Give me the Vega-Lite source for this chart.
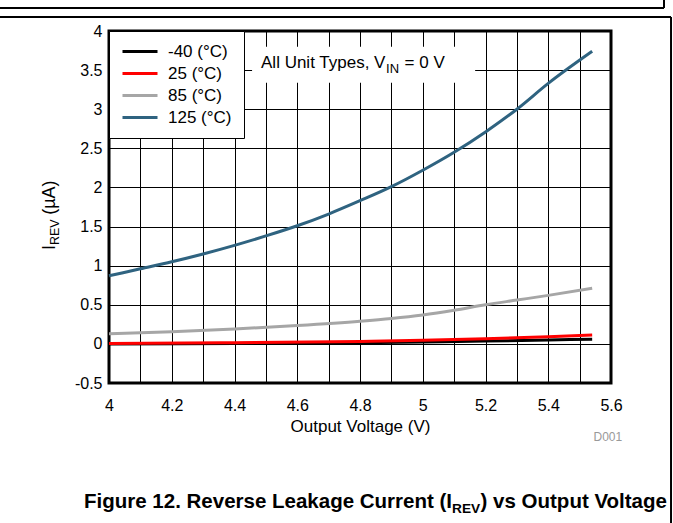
{
  "$schema": "https://vega.github.io/schema/vega-lite/v6.json",
  "width": 502,
  "height": 352,
  "autosize": {"type": "none"},
  "padding": {"left": 109, "top": 31, "right": 62, "bottom": 140},
  "background": "white",
  "resolve": {"axis": {"x": "independent", "y": "independent"}},
  "config": {
    "font": "Liberation Sans",
    "view": {"stroke": "black", "strokeWidth": 3},
    "axis": {
      "domain": false, "ticks": false, "tickSize": 0, "grid": true, "labelFlush": false,
      "labelOverlap": false,
      "gridColor": "black", "gridOpacity": 1, "gridWidth": 1,
      "labelFont": "Liberation Sans", "labelFontSize": 16, "labelColor": "black",
      "titleFont": "Liberation Sans", "titleFontSize": 17, "titleFontWeight": "normal", "titleColor": "black"
    },
    "legend": {
      "orient": "top-left", "offset": 0, "fillColor": "white", "strokeColor": "black",
      "padding": 12, "labelFontSize": 17, "labelColor": "black", "labelOffset": 9,
      "symbolType": "stroke", "symbolSize": 1225, "symbolStrokeWidth": 3,
      "clipHeight": 17, "rowPadding": 4
    }
  },
  "datasets": {
    "curves": [
      {"series": "-40 (°C)", "v": 4.0, "i": 0.0},
      {"series": "-40 (°C)", "v": 4.4, "i": 0.006},
      {"series": "-40 (°C)", "v": 4.8, "i": 0.016},
      {"series": "-40 (°C)", "v": 5.0, "i": 0.025},
      {"series": "-40 (°C)", "v": 5.2, "i": 0.036},
      {"series": "-40 (°C)", "v": 5.4, "i": 0.05},
      {"series": "-40 (°C)", "v": 5.54, "i": 0.06},
      {"series": "25 (°C)", "v": 4.0, "i": 0.006},
      {"series": "25 (°C)", "v": 4.4, "i": 0.016},
      {"series": "25 (°C)", "v": 4.8, "i": 0.032},
      {"series": "25 (°C)", "v": 5.0, "i": 0.046},
      {"series": "25 (°C)", "v": 5.2, "i": 0.066},
      {"series": "25 (°C)", "v": 5.4, "i": 0.092},
      {"series": "25 (°C)", "v": 5.54, "i": 0.115},
      {"series": "85 (°C)", "v": 4.0, "i": 0.13},
      {"series": "85 (°C)", "v": 4.2, "i": 0.155},
      {"series": "85 (°C)", "v": 4.4, "i": 0.19},
      {"series": "85 (°C)", "v": 4.6, "i": 0.235},
      {"series": "85 (°C)", "v": 4.8, "i": 0.29},
      {"series": "85 (°C)", "v": 4.9, "i": 0.325},
      {"series": "85 (°C)", "v": 5.0, "i": 0.37},
      {"series": "85 (°C)", "v": 5.1, "i": 0.43},
      {"series": "85 (°C)", "v": 5.2, "i": 0.5},
      {"series": "85 (°C)", "v": 5.3, "i": 0.56},
      {"series": "85 (°C)", "v": 5.4, "i": 0.62},
      {"series": "85 (°C)", "v": 5.54, "i": 0.71},
      {"series": "125 (°C)", "v": 4.0, "i": 0.87},
      {"series": "125 (°C)", "v": 4.1, "i": 0.96},
      {"series": "125 (°C)", "v": 4.2, "i": 1.05},
      {"series": "125 (°C)", "v": 4.3, "i": 1.15},
      {"series": "125 (°C)", "v": 4.4, "i": 1.26},
      {"series": "125 (°C)", "v": 4.5, "i": 1.38},
      {"series": "125 (°C)", "v": 4.6, "i": 1.51},
      {"series": "125 (°C)", "v": 4.7, "i": 1.66},
      {"series": "125 (°C)", "v": 4.8, "i": 1.83},
      {"series": "125 (°C)", "v": 4.9, "i": 2.01},
      {"series": "125 (°C)", "v": 5.0, "i": 2.22},
      {"series": "125 (°C)", "v": 5.1, "i": 2.45},
      {"series": "125 (°C)", "v": 5.2, "i": 2.71},
      {"series": "125 (°C)", "v": 5.3, "i": 3.0},
      {"series": "125 (°C)", "v": 5.4, "i": 3.33},
      {"series": "125 (°C)", "v": 5.54, "i": 3.74}
    ]
  },
  "layer": [
    {
      "data": {"name": "curves"},
      "mark": {"type": "line", "strokeWidth": 3, "interpolate": "monotone"},
      "encoding": {
        "x": {
          "field": "v", "type": "quantitative",
          "scale": {"domain": [4, 5.6], "nice": false, "zero": false},
          "axis": {
            "values": [4, 4.1, 4.2, 4.3, 4.4, 4.5, 4.6, 4.7, 4.8, 4.9, 5, 5.1, 5.2, 5.3, 5.4, 5.5, 5.6],
            "labelExpr": "round(datum.value*10) % 2 == 0 ? '' + datum.value : ''",
            "labelPadding": 14, "title": "Output Voltage (V)", "titlePadding": 5
          }
        },
        "y": {
          "field": "i", "type": "quantitative",
          "scale": {"domain": [-0.5, 4], "nice": false, "zero": false},
          "axis": {
            "values": [-0.5, 0, 0.5, 1, 1.5, 2, 2.5, 3, 3.5, 4],
            "labelExpr": "'' + datum.value",
            "labelPadding": 7, "title": null
          }
        },
        "color": {
          "field": "series", "type": "nominal",
          "scale": {
            "domain": ["-40 (°C)", "25 (°C)", "85 (°C)", "125 (°C)"],
            "range": ["#000000", "#ff0000", "#a6a6a6", "#2f6380"]
          },
          "legend": {"title": null}
        }
      }
    },
    {
      "data": {"values": [{}]},
      "mark": {"type": "rect", "fill": "white"},
      "encoding": {
        "x": {"datum": 4.456, "type": "quantitative", "axis": null}, "x2": {"datum": 5.167},
        "y": {"datum": 3.80, "type": "quantitative", "axis": null}, "y2": {"datum": 3.34}
      }
    },
    {
      "data": {"values": [{}]},
      "mark": {"type": "text", "text": "All Unit Types, V", "align": "left", "baseline": "alphabetic", "fontSize": 17, "color": "black"},
      "encoding": {"x": {"datum": 4.4845, "type": "quantitative", "axis": null}, "y": {"datum": 3.527, "type": "quantitative", "axis": null}}
    },
    {
      "data": {"values": [{}]},
      "mark": {"type": "text", "text": "IN", "align": "left", "baseline": "alphabetic", "fontSize": 13, "color": "black"},
      "encoding": {"x": {"datum": 4.883, "type": "quantitative", "axis": null}, "y": {"datum": 3.463, "type": "quantitative", "axis": null}}
    },
    {
      "data": {"values": [{}]},
      "mark": {"type": "text", "text": "= 0 V", "align": "left", "baseline": "alphabetic", "fontSize": 17, "color": "black"},
      "encoding": {"x": {"datum": 4.942, "type": "quantitative", "axis": null}, "y": {"datum": 3.527, "type": "quantitative", "axis": null}}
    },
    {
      "data": {"values": [{}]},
      "mark": {"type": "text", "text": "I", "align": "left", "baseline": "alphabetic", "angle": 270, "fontSize": 18, "color": "black"},
      "encoding": {"x": {"datum": 3.827, "type": "quantitative", "axis": null}, "y": {"datum": 1.2, "type": "quantitative", "axis": null}}
    },
    {
      "data": {"values": [{}]},
      "mark": {"type": "text", "text": "REV", "align": "left", "baseline": "alphabetic", "angle": 270, "fontSize": 12.5, "color": "black"},
      "encoding": {"x": {"datum": 3.841, "type": "quantitative", "axis": null}, "y": {"datum": 1.264, "type": "quantitative", "axis": null}}
    },
    {
      "data": {"values": [{}]},
      "mark": {"type": "text", "text": " (µA)", "align": "left", "baseline": "alphabetic", "angle": 270, "fontSize": 18, "color": "black"},
      "encoding": {"x": {"datum": 3.827, "type": "quantitative", "axis": null}, "y": {"datum": 1.65, "type": "quantitative", "axis": null}}
    },
    {
      "data": {"values": [{}]},
      "mark": {"type": "text", "text": "D001", "align": "center", "baseline": "alphabetic", "fontSize": 12, "color": "#999999"},
      "encoding": {"x": {"datum": 5.59, "type": "quantitative", "axis": null}, "y": {"datum": -1.241, "type": "quantitative", "axis": null}}
    },
    {
      "data": {"values": [{}]},
      "mark": {"type": "text", "text": "Figure 12. Reverse Leakage Current (I", "align": "left", "baseline": "alphabetic", "fontSize": 20.5, "fontWeight": "bold", "color": "black"},
      "encoding": {"x": {"datum": 3.9203, "type": "quantitative", "axis": null}, "y": {"datum": -2.098, "type": "quantitative", "axis": null}}
    },
    {
      "data": {"values": [{}]},
      "mark": {"type": "text", "text": "REV", "align": "left", "baseline": "alphabetic", "fontSize": 13.7, "fontWeight": "bold", "color": "black"},
      "encoding": {"x": {"datum": 5.0933, "type": "quantitative", "axis": null}, "y": {"datum": -2.162, "type": "quantitative", "axis": null}}
    },
    {
      "data": {"values": [{}]},
      "mark": {"type": "text", "text": ") vs Output Voltage", "align": "left", "baseline": "alphabetic", "fontSize": 20.5, "fontWeight": "bold", "color": "black"},
      "encoding": {"x": {"datum": 5.1842, "type": "quantitative", "axis": null}, "y": {"datum": -2.098, "type": "quantitative", "axis": null}}
    },
    {
      "data": {"values": [{}]},
      "mark": {"type": "rule", "color": "black", "strokeWidth": 2},
      "encoding": {"x": {"datum": 3.6526, "type": "quantitative", "axis": null}, "x2": {"datum": 5.769}, "y": {"datum": 4.294, "type": "quantitative", "axis": null}}
    },
    {
      "data": {"values": [{}]},
      "mark": {"type": "rule", "color": "black", "strokeWidth": 2},
      "encoding": {"x": {"datum": 5.769, "type": "quantitative", "axis": null}, "y": {"datum": 4.294, "type": "quantitative", "axis": null}, "y2": {"datum": 4.397}}
    },
    {
      "data": {"values": [{}]},
      "mark": {"type": "rule", "color": "black", "strokeWidth": 2},
      "encoding": {"x": {"datum": 3.6526, "type": "quantitative", "axis": null}, "x2": {"datum": 5.7913}, "y": {"datum": 4.179, "type": "quantitative", "axis": null}}
    },
    {
      "data": {"values": [{}]},
      "mark": {"type": "rule", "color": "black", "strokeWidth": 2},
      "encoding": {"x": {"datum": 5.7913, "type": "quantitative", "axis": null}, "y": {"datum": 4.179, "type": "quantitative", "axis": null}, "y2": {"datum": -2.289}}
    }
  ]
}
